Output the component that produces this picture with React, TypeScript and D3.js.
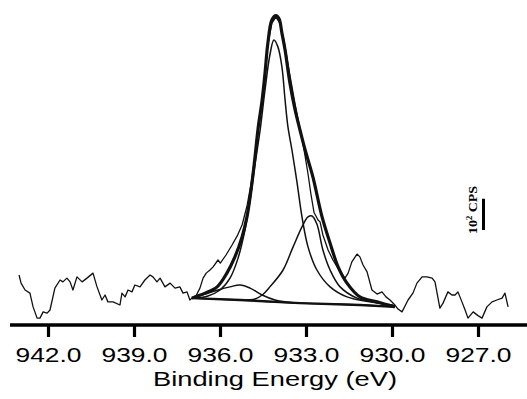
import React, { useEffect, useRef } from 'react'
import * as d3 from 'd3'

// binding energy (eV), counts (CPS above the axis line)
const rawSpectrum: [number, number][] = [
  [943.01, 160], [942.94, 134], [942.80, 112], [942.63, 102], [942.52, 58], [942.38, 22],
  [942.28, 22], [942.17, 42], [942.03, 38], [941.93, 48], [941.76, 118], [941.58, 144],
  [941.48, 138], [941.34, 150], [941.23, 138], [941.13, 112], [940.99, 154], [940.81, 138],
  [940.64, 150], [940.43, 166], [940.29, 122], [940.12, 80], [940.01, 96], [939.91, 74],
  [939.73, 74], [939.49, 64], [939.42, 102], [939.31, 90], [939.21, 112], [939.07, 106],
  [938.97, 128], [938.79, 122], [938.62, 144], [938.44, 160], [938.34, 154], [938.20, 138],
  [938.09, 150], [937.92, 122], [937.74, 134], [937.57, 118], [937.40, 122], [937.29, 102],
  [937.15, 106], [937.05, 80], [936.98, 86], [936.84, 93], [936.70, 118], [936.59, 150],
  [936.48, 166], [936.35, 176], [936.24, 186], [936.07, 208], [935.99, 198], [935.79, 224],
  [935.58, 256], [935.40, 285], [935.23, 320], [935.06, 380], [934.92, 450], [934.80, 525],
  [934.67, 630], [934.53, 722], [934.43, 804], [934.33, 898], [934.19, 966], [934.05, 985],
  [933.91, 966], [933.77, 912], [933.59, 814], [933.38, 706], [933.21, 628], [933.07, 562],
  [932.93, 484], [932.83, 420], [932.72, 360], [932.58, 336], [932.51, 330], [932.41, 288],
  [932.23, 240], [932.06, 208], [931.81, 170], [931.64, 150], [931.53, 166], [931.40, 202],
  [931.22, 227], [931.12, 218], [931.01, 192], [930.87, 170], [930.70, 112], [930.52, 99],
  [930.35, 106], [930.21, 90], [930.07, 80], [929.90, 64], [929.79, 51], [929.65, 42],
  [929.44, 80], [929.27, 102], [929.13, 134], [928.95, 154], [928.78, 154], [928.60, 150],
  [928.50, 138], [928.33, 54], [928.22, 70], [928.05, 106], [927.91, 96], [927.80, 96],
  [927.70, 106], [927.56, 74], [927.45, 48], [927.35, 22], [927.17, 42], [927.00, 30],
  [926.86, 22], [926.69, 58], [926.51, 74], [926.34, 80], [926.16, 86], [926.06, 102],
  [925.95, 58]
]

const envelopeFit: [number, number][] = [
  [936.98, 86], [936.87, 90], [936.52, 102], [936.10, 122], [935.76, 166], [935.48, 218],
  [935.23, 282], [935.06, 346], [934.92, 430], [934.80, 520], [934.67, 630], [934.53, 720],
  [934.43, 806], [934.33, 902], [934.19, 976], [934.05, 990], [933.94, 980], [933.84, 934],
  [933.73, 880], [933.56, 774], [933.38, 688], [933.21, 624], [933.03, 560], [932.76, 474],
  [932.44, 346], [932.16, 262], [931.88, 186], [931.57, 134], [931.12, 90], [930.52, 74],
  [929.90, 58]
]

const mainPeak: [number, number][] = [
  [936.98, 86], [936.87, 86], [936.42, 93], [936.00, 112], [935.65, 150], [935.37, 214],
  [935.13, 304], [934.95, 400], [934.78, 512], [934.60, 624], [934.43, 752], [934.26, 864],
  [934.12, 912], [933.98, 890], [933.84, 826], [933.73, 720], [933.63, 634], [933.49, 560],
  [933.31, 454], [933.14, 346], [932.93, 250], [932.62, 176], [932.16, 122], [931.57, 90],
  [930.77, 74], [929.97, 64]
]

const secondPeak: [number, number][] = [
  [935.30, 80], [934.78, 83], [934.53, 96], [934.26, 122], [933.80, 176], [933.45, 250],
  [933.14, 314], [932.93, 346], [932.79, 349], [932.62, 323], [932.41, 240], [932.16, 176],
  [931.81, 122], [931.22, 86], [930.42, 70], [929.90, 60]
]

const minorPeak: [number, number][] = [
  [936.98, 86], [936.52, 99], [936.07, 112], [935.65, 122], [935.30, 128], [934.95, 118],
  [934.53, 96], [934.08, 80], [933.73, 74], [933.21, 70]
]

const background: [number, number][] = [
  [936.98, 86], [935.30, 80], [933.21, 70], [931.12, 64], [929.90, 58]
]

const tickValues = [942, 939, 936, 933, 930, 927]
const axisTitle = 'Binding Energy (eV)'
const scaleBarCps = 100

export default function App() {
  const ref = useRef<SVGSVGElement>(null)

  useEffect(() => {
    const svg = d3.select(ref.current)
    svg.selectAll('*').remove()

    const x = d3.scaleLinear().domain([942, 927]).range([48, 478])
    const y = d3.scaleLinear().domain([0, 1000]).range([325, 12.5])

    const smooth = d3.line<[number, number]>()
      .x(d => x(d[0])).y(d => y(d[1]))
      .curve(d3.curveCatmullRom.alpha(0.5))
    const jagged = d3.line<[number, number]>()
      .x(d => x(d[0])).y(d => y(d[1]))

    // fit components
    const thin = [background, minorPeak, secondPeak, mainPeak]
    thin.forEach(pts => {
      svg.append('path').attr('d', smooth(pts))
        .attr('fill', 'none').attr('stroke', '#111')
        .attr('stroke-width', 1.5)
    })
    svg.append('path').attr('d', jagged(background))
      .attr('fill', 'none').attr('stroke', '#111').attr('stroke-width', 2.5)

    // raw spectrum
    svg.append('path').attr('d', jagged(rawSpectrum))
      .attr('fill', 'none').attr('stroke', '#111')
      .attr('stroke-width', 1.3).attr('stroke-linejoin', 'round')

    // envelope
    svg.append('path').attr('d', smooth(envelopeFit))
      .attr('fill', 'none').attr('stroke', '#111')
      .attr('stroke-width', 3.2)

    // x axis
    svg.append('line')
      .attr('x1', 10).attr('x2', 527)
      .attr('y1', y(0)).attr('y2', y(0))
      .attr('stroke', '#000').attr('stroke-width', 3.5)

    const axis = svg.append('g')
      .attr('transform', `translate(0,${y(0)})`)
      .call(d3.axisBottom(x).tickValues(tickValues)
        .tickFormat(d3.format('.1f')).tickSize(12).tickSizeOuter(0).tickPadding(10))
    axis.select('.domain').remove()
    axis.selectAll('.tick line').attr('stroke', '#000').attr('stroke-width', 3.2)
    axis.selectAll('.tick text')
      .attr('fill', '#000')
      .attr('dy', null).attr('y', 37)
      .attr('font-family', '"Liberation Sans", Arial, sans-serif')
      .attr('font-size', 21)
      .attr('textLength', 66).attr('lengthAdjust', 'spacingAndGlyphs')

    svg.append('text')
      .attr('x', 275).attr('y', 385.5)
      .attr('text-anchor', 'middle')
      .attr('font-family', '"Liberation Sans", Arial, sans-serif')
      .attr('font-size', 21)
      .attr('textLength', 244).attr('lengthAdjust', 'spacingAndGlyphs')
      .text(axisTitle)

    // intensity scale bar
    const barLen = y(0) - y(scaleBarCps)
    svg.append('line')
      .attr('x1', 483.5).attr('x2', 483.5)
      .attr('y1', 230 - barLen).attr('y2', 230)
      .attr('stroke', '#000').attr('stroke-width', 3)

    const lbl = svg.append('text')
      .attr('transform', 'translate(476.5,210) rotate(-90)')
      .attr('text-anchor', 'middle')
      .attr('font-family', '"Liberation Serif", "Times New Roman", serif')
      .attr('font-weight', 'bold')
      .attr('font-size', 13)
      .attr('textLength', 48).attr('lengthAdjust', 'spacingAndGlyphs')
    lbl.append('tspan').text('10')
    lbl.append('tspan').attr('font-size', 8).attr('dy', -5).text('2')
    lbl.append('tspan').attr('dy', 5).text(' CPS')
  }, [])

  return (
    <svg ref={ref} width={527} height={399}
      style={{ position: 'absolute', left: 0, top: 0, background: '#fff' }} />
  )
}
